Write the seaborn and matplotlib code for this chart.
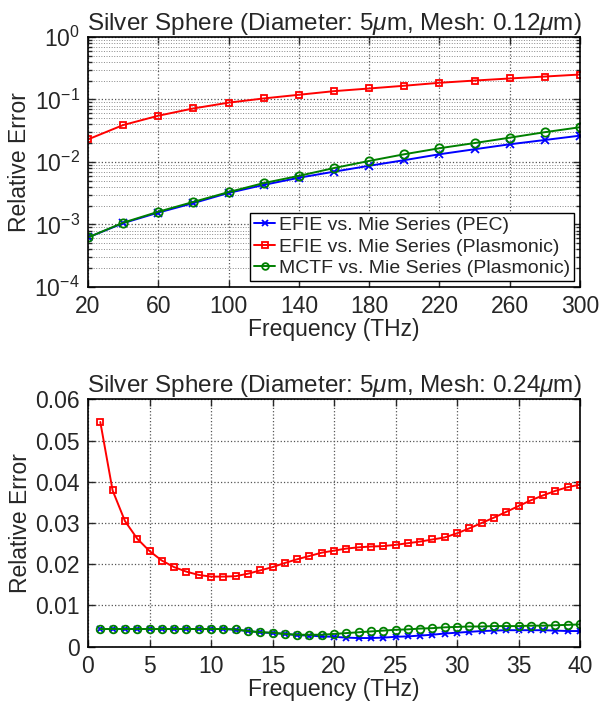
import numpy as np
import pandas as pd
import matplotlib
matplotlib.use('Agg')
import matplotlib.pyplot as plt
import seaborn as sns
from matplotlib.ticker import LogLocator, NullFormatter, FixedLocator

# top panel: mesh 0.12 um, 20-300 THz
freq_fine = [20, 40, 60, 80, 100, 120, 140, 160, 180, 200, 220, 240, 260, 280, 300]
efie_pec_fine = [0.00062, 0.00105, 0.00155, 0.0022, 0.0032, 0.0043, 0.0056, 0.0070, 0.0087,
                 0.0107, 0.0133, 0.016, 0.0192, 0.0225, 0.0264]
efie_pl_fine = [0.023, 0.039, 0.055, 0.072, 0.089, 0.104, 0.119, 0.136, 0.150, 0.166,
                0.185, 0.201, 0.217, 0.233, 0.251]
mctf_pl_fine = [0.00062, 0.00107, 0.0016, 0.0023, 0.0033, 0.0046, 0.0060, 0.0080, 0.0104,
                0.0133, 0.0166, 0.0201, 0.0245, 0.030, 0.036]

# bottom panel: mesh 0.24 um, 1-40 THz
freq_coarse = list(range(1, 41))
efie_pl_coarse = [0.0545, 0.0379, 0.0305, 0.0262, 0.0232, 0.0209, 0.0193, 0.0182, 0.0174, 0.0170,
                  0.0170, 0.0171, 0.0177, 0.0185, 0.0193, 0.0203, 0.0212, 0.0220, 0.0228, 0.0233,
                  0.0238, 0.0241, 0.0243, 0.0244, 0.0247, 0.0251, 0.0255, 0.0260, 0.0265, 0.0275,
                  0.0287, 0.0300, 0.0313, 0.0327, 0.0341, 0.0355, 0.0367, 0.0378, 0.0387, 0.0393]
efie_pec_coarse = [0.0043, 0.0043, 0.0043, 0.0043, 0.0043, 0.0043, 0.0043, 0.0043, 0.0043, 0.0043,
                   0.0043, 0.0041, 0.0038, 0.0035, 0.0033, 0.0031, 0.0028, 0.0027, 0.0025, 0.0024,
                   0.0022, 0.0021, 0.0021, 0.0022, 0.0024, 0.0025, 0.0027, 0.0029, 0.0032, 0.0034,
                   0.0036, 0.0038, 0.0039, 0.0040, 0.0040, 0.0040, 0.0040, 0.0039, 0.0038, 0.0038]
mctf_pl_coarse = [0.0043, 0.0043, 0.0043, 0.0043, 0.0043, 0.0043, 0.0043, 0.0043, 0.0043, 0.0043,
                  0.0043, 0.0042, 0.0038, 0.0035, 0.0034, 0.0031, 0.0029, 0.0029, 0.0029, 0.0031,
                  0.0033, 0.0035, 0.0037, 0.0039, 0.0041, 0.0042, 0.0044, 0.0045, 0.0047, 0.0048,
                  0.0049, 0.0049, 0.0050, 0.0050, 0.0050, 0.0051, 0.0051, 0.0052, 0.0053, 0.0054]

labels = ['EFIE vs. Mie Series (PEC)', 'EFIE vs. Mie Series (Plasmonic)', 'MCTF vs. Mie Series (Plasmonic)']
colors = ['#0000ff', '#ff0000', '#008000']
markers = ['x', 's', 'o']

sns.set_style('ticks')
plt.rcParams['font.family'] = ['Liberation Sans', 'DejaVu Sans']
plt.rcParams['mathtext.fontset'] = 'custom'
plt.rcParams['mathtext.rm'] = 'Liberation Sans'
plt.rcParams['mathtext.it'] = 'Liberation Sans:italic'
plt.rcParams['font.size'] = 16

fig = plt.figure(figsize=(6.08, 7.02), dpi=100)
ax1 = fig.add_axes([88 / 608, 1 - 287 / 702, 492 / 608, 250 / 702])
ax2 = fig.add_axes([88 / 608, 1 - 646.7 / 702, 492 / 608, 247.4 / 702])


def draw(ax, x, series, sizes):
    for y, lab, c, m, ms in zip(series, labels, colors, markers, sizes):
        sns.lineplot(x=x, y=y, ax=ax, color=c, marker=m, label=lab, linewidth=1.4,
                     markersize=ms, markerfacecolor='none', markeredgecolor=c,
                     markeredgewidth=1.3)


def matlab_axes(ax):
    ax.tick_params(which='both', direction='in', top=True, right=True, labelsize=16.5,
                   length=5, width=1, pad=6)
    ax.tick_params(which='minor', length=3)
    for s in ax.spines.values():
        s.set_linewidth(1.2)
        s.set_color('black')
    ax.set_xlabel('Frequency (THz)', fontsize=16.5, labelpad=0)
    ax.set_ylabel('Relative Error', fontsize=16.5, labelpad=2)


draw(ax1, freq_fine, [efie_pec_fine, efie_pl_fine, mctf_pl_fine], [6, 5, 6])
ax1.set_yscale('log')
ax1.set_ylim(1e-4, 1)
ax1.set_xlim(20, 300)
ax1.xaxis.set_major_locator(FixedLocator([20, 60, 100, 140, 180, 220, 260, 300]))
ax1.yaxis.set_major_locator(LogLocator(base=10, numticks=10))
ax1.yaxis.set_minor_locator(LogLocator(base=10, subs=np.arange(2, 10), numticks=20))
ax1.yaxis.set_minor_formatter(NullFormatter())
ax1.grid(True, which='major', linestyle=':', color='#555555', linewidth=0.9)
ax1.grid(True, which='minor', axis='y', linestyle=':', color='#888888', linewidth=0.7)
matlab_axes(ax1)
ax1.set_title('Silver Sphere (Diameter: 5$\\mu$m, Mesh: 0.12$\\mu$m)', fontsize=17.5, pad=5)
leg = ax1.legend(loc='lower right', fontsize=14, frameon=True, fancybox=False,
                 edgecolor='black', framealpha=1, borderaxespad=0.3, handlelength=1.1,
                 handletextpad=0.2, borderpad=0.2, labelspacing=0.2, markerscale=0.8)
leg.get_frame().set_linewidth(1.0)

draw(ax2, freq_coarse, [efie_pec_coarse, efie_pl_coarse, mctf_pl_coarse], [5, 4.5, 5.5])
ax2.set_xlim(0, 40)
ax2.set_ylim(0, 0.06)
ax2.set_xticks([0, 5, 10, 15, 20, 25, 30, 35, 40])
ax2.set_yticks([0, 0.01, 0.02, 0.03, 0.04, 0.05, 0.06])
ax2.set_yticklabels(['0', '0.01', '0.02', '0.03', '0.04', '0.05', '0.06'])
ax2.grid(True, which='major', linestyle=':', color='#555555', linewidth=0.9)
ax2.get_legend().remove()
matlab_axes(ax2)
ax2.set_title('Silver Sphere (Diameter: 5$\\mu$m, Mesh: 0.24$\\mu$m)', fontsize=17.5, pad=5)

fig.savefig('out.png', dpi=100)
